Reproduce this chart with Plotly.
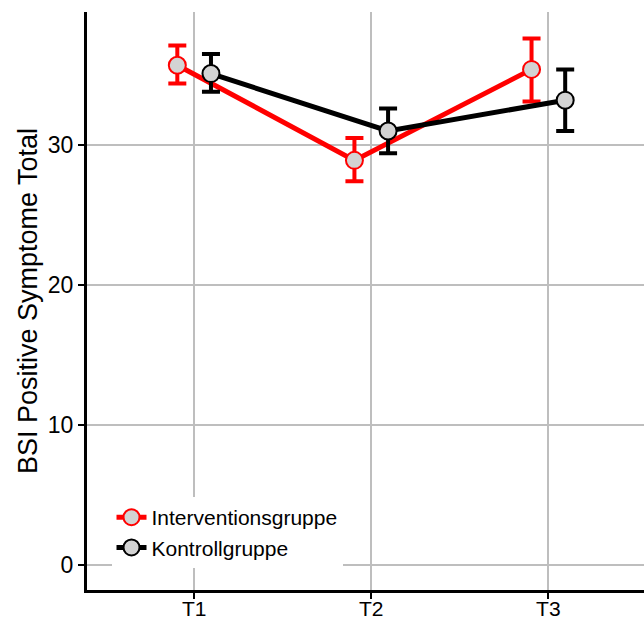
import plotly.graph_objects as go

times = ["T1", "T2", "T3"]
x_pos = [1, 2, 3]
groups = ["Interventionsgruppe", "Kontrollgruppe"]
interv_mean = [35.7, 28.9, 35.4]
interv_upper = [37.1, 30.5, 37.6]
interv_lower = [34.4, 27.4, 33.1]
kontr_mean = [35.1, 31.0, 33.2]
kontr_upper = [36.5, 32.6, 35.4]
kontr_lower = [33.8, 29.4, 31.0]
colors = ["#ff0000", "#000000"]
dodge = 0.095

fig = go.Figure()
series = [
    (interv_mean, interv_upper, interv_lower, -dodge),
    (kontr_mean, kontr_upper, kontr_lower, dodge),
]
for name, col, (m, up, lo, d) in zip(groups, colors, series):
    fig.add_trace(go.Scatter(
        x=[xp + d for xp in x_pos], y=m, name=name,
        mode="lines+markers",
        line=dict(color=col, width=5),
        marker=dict(size=17, color="#d3d3d3", line=dict(color=col, width=2)),
        error_y=dict(type="data", symmetric=False,
                     array=[u - v for u, v in zip(up, m)],
                     arrayminus=[v - l for v, l in zip(m, lo)],
                     color=col, thickness=4, width=9),
    ))

fig.update_layout(
    width=644, height=620,
    margin=dict(l=87, r=0, t=12, b=30),
    plot_bgcolor="white", paper_bgcolor="white",
    font=dict(family="Liberation Sans, Arial, sans-serif", color="black"),
    showlegend=True,
    legend=dict(x=0.044, y=0.038, xanchor="left", yanchor="bottom",
                bgcolor="white", font=dict(size=21), borderwidth=0,
                itemwidth=30, tracegroupgap=0),
)
fig.update_xaxes(
    range=[0.395, 3.54], tickvals=x_pos, ticktext=times, automargin=False,
    showgrid=True, gridcolor="#bebebe", gridwidth=2,
    showline=True, linecolor="black", linewidth=3,
    ticks="outside", ticklen=6, tickwidth=2, tickcolor="black",
    tickfont=dict(size=21, family="Liberation Sans", color="black"),
    zeroline=False, ticklabelstandoff=-8,
)
fig.update_yaxes(
    range=[-1.8, 39.5], tickvals=[0, 10, 20, 30], automargin=False,
    showgrid=True, gridcolor="#bebebe", gridwidth=2,
    showline=True, linecolor="black", linewidth=3,
    ticks="outside", ticklen=6, tickwidth=2, tickcolor="black",
    tickfont=dict(size=23, family="Liberation Sans", color="black"),
    zeroline=False,
    title=dict(text="BSI Positive Symptome Total", font=dict(size=27), standoff=3),
)
fig.write_html("out.html", config={"displayModeBar": False},
               post_script="document.body.style.margin='0';document.body.style.overflow='hidden';")
